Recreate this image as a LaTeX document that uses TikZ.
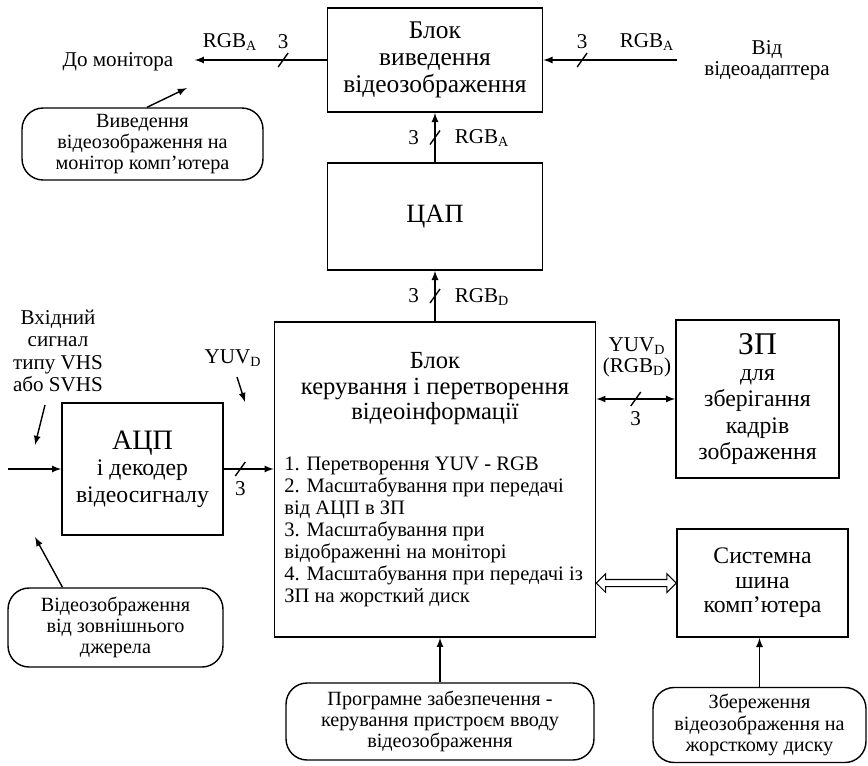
\documentclass[tikz,border=0pt]{standalone}
\usepackage{fontspec}
\setmainfont{Liberation Serif}
\usetikzlibrary{arrows,positioning,calc,shapes.arrows}

% slash mark across a 3-wire bus
\newcommand{\busmark}[1]{\draw[line width=0.8pt] ($(#1)+(-5,7)$) -- ($(#1)+(5,-7)$);}

\begin{document}
\begin{tikzpicture}[
    x=0.02cm, y=-0.02cm,
    >=latex,
    block/.style={draw, line width=1pt, align=center, inner sep=0pt, font=\fontsize{13.5}{15}\selectfont},
    callout/.style={draw, line width=0.8pt, rounded corners=12pt, align=center, inner sep=0pt, font=\fontsize{11.5}{12}\selectfont},
    link/.style={->, line width=0.8pt},
    both_link/.style={<->, line width=0.8pt},
    sig_label/.style={font=\fontsize{12}{13}\selectfont, inner sep=1pt},
    bus_arrow/.style={double arrow, draw, line width=0.6pt, inner sep=1.7pt, double arrow head extend=3.3pt, minimum height=1.6cm},
]
\useasboundingbox (0,0) rectangle (868,765);

% Blocks
\node[block, minimum width=4.3cm, minimum height=2.08cm, font=\fontsize{14.5}{15.5}\selectfont] (out) at (435,60) {Блок\\виведення\\відеозображення};
\node[block, minimum width=4.3cm, minimum height=2.14cm, font=\fontsize{15}{16}\selectfont] (dac) at (435,216.5) {ЦАП};
\node[block, minimum width=6.42cm, minimum height=6.3cm] (ctrl) at (435,479.5) {};
\node[font=\fontsize{14}{14.5}\selectfont, align=center] (ctrl_title) at (435,389) {Блок\\керування і перетворення\\відеоінформації};
\node[font=\fontsize{11.7}{12.5}\selectfont, align=left, anchor=north west, inner sep=0pt] (ctrl_list) at (284,457) {%
    1. Перетворення YUV - RGB\\
    2. Масштабування при передачі\\
    від АЦП в ЗП\\
    3. Масштабування при\\
    відображенні на моніторі\\
    4. Масштабування при передачі із\\
    ЗП на жорсткий диск};
\node[block, minimum width=3.22cm, minimum height=2.64cm] (adc) at (142.5,469) {{\fontsize{16}{17}\selectfont АЦП}\\і декодер\\відеосигналу};
\node[block, minimum width=3.26cm, minimum height=3.16cm] (mem) at (757.5,399) {{\fontsize{18}{19}\selectfont ЗП}\\для\\зберігання\\кадрів\\зображення};
\node[block, minimum width=3.42cm, minimum height=2.16cm, font=\fontsize{13.5}{14}\selectfont] (bus) at (762.5,583) {Системна\\шина\\комп'ютера};

% Callouts
\node[callout, minimum width=4.82cm, minimum height=1.44cm] (cmon) at (142.5,144) {Виведення\\відеозображення на\\монітор комп'ютера};
\node[callout, minimum width=4.3cm, minimum height=1.58cm] (csrc) at (115.5,627.5) {Відеозображення\\від зовнішнього\\джерела};
\node[callout, minimum width=6.16cm, minimum height=1.54cm] (csw) at (440,721.5) {Програмне забезпечення -\\керування пристроєм вводу\\відеозображення};
\node[callout, minimum width=4.26cm, minimum height=1.5cm] (chd) at (759.5,725) {Збереження\\відеозображення на\\жорсткому диску};

% Free texts
\node[sig_label, inner xsep=12pt] (mon) at (118,62) {До монітора};
\node[sig_label, align=center, font=\fontsize{12}{12}\selectfont] (vid) at (767,60) {Від\\відеоадаптера};
\node[sig_label, align=center, font=\fontsize{12}{12.8}\selectfont] (vhs) at (58,351) {Вхідний\\сигнал\\типу VHS\\або SVHS};
\node[sig_label] (yuv_in) at (233,358) {YUV\textsubscript{D}};

\coordinate (vid_in) at (677,60);
\coordinate (sig_in) at (8,469);
\coordinate (mon_tip) at (187,88);
\coordinate (src_tip) at (35,537);
\coordinate (vhs_from) at (45,405);
\coordinate (vhs_tip) at (35,445);
\coordinate (yuv_from) at (237,377);
\coordinate (yuv_tip) at (245,402);

% Signal paths
\draw[link] (out.west) -- coordinate[pos=0.33] (m_mon) (out.west -| mon.east);
\draw[link] (vid_in) -- coordinate[pos=0.71] (m_vid) (out.east);
\draw[link] (dac.north) -- coordinate[pos=0.5] (m_dac) (out.south);
\draw[link] (ctrl.north) -- coordinate[pos=0.5] (m_ctrl) (dac.south);
\draw[link] (sig_in) -- (adc.west);
\draw[link] (adc.east) -- coordinate[pos=0.33] (m_adc) (adc.east -| ctrl.west);
\draw[both_link] (mem.west -| ctrl.east) -- coordinate[pos=0.5] (m_mem) (mem.west);
\node[bus_arrow] (bus_link) at ($(bus.west -| ctrl.east)!0.5!(bus.west)$) {};

\busmark{m_mon}
\busmark{m_vid}
\busmark{m_dac}
\busmark{m_ctrl}
\busmark{m_adc}
\busmark{m_mem}

% Bus labels
\node[sig_label, above=5pt of m_mon] {3};
\node[sig_label] at (230,42) {RGB\textsubscript{A}};
\node[sig_label, above=5pt of m_vid] {3};
\node[sig_label] at (647,42) {RGB\textsubscript{A}};
\node[sig_label, left=8pt of m_dac] {3};
\node[sig_label] at (482,138) {RGB\textsubscript{A}};
\node[sig_label, left=8pt of m_ctrl] {3};
\node[sig_label] at (482,297) {RGB\textsubscript{D}};
\node[sig_label, below=6pt of m_adc] {3};
\node[sig_label, align=center, font=\fontsize{12}{12}\selectfont] at (637,357) {YUV\textsubscript{D}\\(RGB\textsubscript{D})};
\node[sig_label, below=6pt of m_mem] {3};

% Callout pointers
\draw[link] ([xshift=0.09cm]cmon.north) -- (mon_tip);
\draw[link] ($(csrc.north west)!0.255!(csrc.north east)$) -- (src_tip);
\draw[link] (vhs_from) -- (vhs_tip);
\draw[link] (yuv_from) -- (yuv_tip);
\draw[link] (csw.north) -- (csw.north |- ctrl.south);
\draw[link] (chd.north) -- (chd.north |- bus.south);

\end{tikzpicture}
\end{document}
